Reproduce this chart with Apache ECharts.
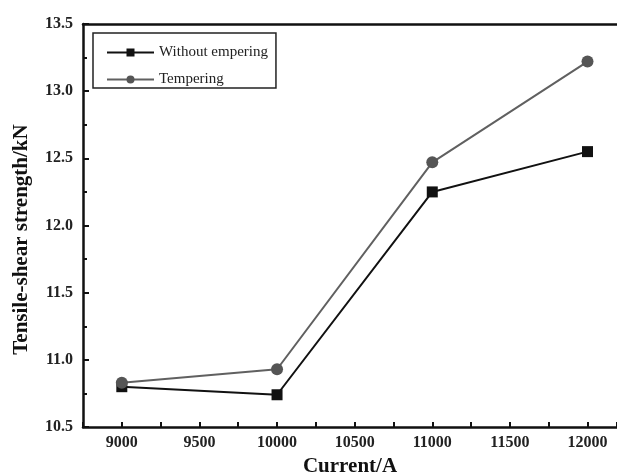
<!DOCTYPE html>
<html>
<head>
<meta charset="utf-8">
<script src="https://cdn.jsdelivr.net/npm/echarts@6/dist/echarts.min.js"></script>
<style>
  html, body { margin: 0; padding: 0; background: #fff; }
  #chart { width: 617px; height: 472px; }
</style>
</head>
<body>
<div id="chart"></div>
<script>
// data
const currents = [9000, 10000, 11000, 12000]
const withoutTempering = [10.80, 10.74, 12.25, 12.55]
const tempering = [10.83, 10.93, 12.47, 13.22]

const font = '"Liberation Serif", "Times New Roman", serif'

const chart = echarts.init(document.getElementById('chart'))

function pairs(ys) {
  return currents.map((x, i) => [x, ys[i]])
}

// axis runs past the right edge of the picture (cropped)
const xMin = 8750, xMax = 12190

const option = {
  backgroundColor: '#fff',
  animation: false,
  grid: { left: 83, top: 24, right: 0, bottom: 45, outerBoundsMode: 'none' },
  legend: {
    left: 93, top: 33, width: 180,
    orient: 'vertical',
    itemWidth: 47, itemHeight: 10, itemGap: 12,
    padding: [12, 8, 1, 13],
    borderColor: '#222', borderWidth: 1.5,
    textStyle: { fontFamily: font, fontSize: 15, color: '#222' },
    data: ['Without empering', 'Tempering']
  },
  xAxis: [{
    type: 'value',
    min: xMin, max: xMax, interval: 250,
    name: 'Current/A',
    nameLocation: 'middle', nameGap: 26,
    nameTextStyle: { fontFamily: font, fontSize: 21, fontWeight: 'bold', color: '#111' },
    axisLine: { show: true, onZero: false, lineStyle: { color: '#111', width: 2.5 } },
    axisTick: { show: true, inside: true, length: 5, lineStyle: { color: '#111', width: 2 } },
    splitLine: { show: false },
    axisLabel: {
      fontFamily: font, fontSize: 16, fontWeight: 'bold', color: '#222', margin: 8,
      formatter: v => (v % 500 === 0 ? String(v) : '')
    }
  }, {
    type: 'value', position: 'top',
    min: xMin, max: xMax,
    axisLine: { show: true, onZero: false, lineStyle: { color: '#111', width: 2.5 } },
    axisTick: { show: false }, axisLabel: { show: false }, splitLine: { show: false }
  }],
  yAxis: {
    type: 'value',
    min: 10.5, max: 13.5, interval: 0.5,
    name: 'Tensile-shear strength/kN',
    nameLocation: 'middle', nameGap: 51,
    nameTextStyle: {
      fontFamily: font, fontSize: 21, fontWeight: 'bold', color: '#111',
      padding: [0, 28, 0, 0]
    },
    axisLine: { show: true, onZero: false, lineStyle: { color: '#111', width: 2.5 } },
    axisTick: { show: true, inside: true, length: 6, lineStyle: { color: '#111', width: 2 } },
    minorTick: { show: true, splitNumber: 2, length: 4, lineStyle: { color: '#111', width: 2 } },
    splitLine: { show: false },
    axisLabel: {
      fontFamily: font, fontSize: 16, fontWeight: 'bold', color: '#222', margin: 10,
      formatter: v => v.toFixed(1)
    }
  },
  series: [
    {
      name: 'Without empering',
      type: 'line',
      data: pairs(withoutTempering),
      symbol: 'rect', symbolSize: 11,
      lineStyle: { color: '#111', width: 2 },
      itemStyle: { color: '#111' }
    },
    {
      name: 'Tempering',
      type: 'line',
      data: pairs(tempering),
      symbol: 'circle', symbolSize: 12,
      lineStyle: { color: '#606060', width: 2 },
      itemStyle: { color: '#555' }
    }
  ]
}

chart.setOption(option)
</script>
</body>
</html>
